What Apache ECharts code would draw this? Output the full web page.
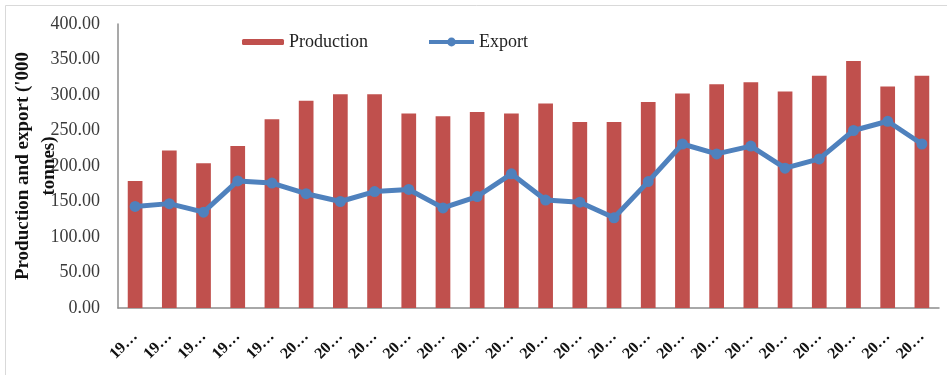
<!DOCTYPE html>
<html>
<head>
<meta charset="utf-8">
<script src="https://cdn.jsdelivr.net/npm/echarts@6/dist/echarts.min.js"></script>
<style>
  html, body { margin: 0; padding: 0; background: #ffffff; }
  #chart { width: 947px; height: 375px; }
</style>
</head>
<body>
<div id="chart"></div>
<script>
// Years 1995–2018
const years = ['1995','1996','1997','1998','1999','2000','2001','2002','2003','2004','2005','2006',
               '2007','2008','2009','2010','2011','2012','2013','2014','2015','2016','2017','2018'];
// Production and export, '000 tonnes
const production = [179, 222, 204, 228, 266, 292, 301, 301, 274, 270, 276, 274,
                    288, 262, 262, 290, 302, 315, 318, 305, 327, 348, 312, 327];
const exportVol  = [143, 147, 135, 179, 176, 161, 150, 164, 167, 141, 157, 189,
                    152, 149, 127, 178, 231, 217, 228, 197, 210, 250, 263, 231];
const yTicks = { min: 0, max: 400, interval: 50 };

const serif = '"Liberation Serif", "Times New Roman", serif';
const chart = echarts.init(document.getElementById('chart'));

chart.setOption({
  backgroundColor: '#ffffff',
  animation: false,
  graphic: [{
    type: 'rect',
    z: -10,
    shape: { x: 5.5, y: 5.5, width: 980, height: 420 },
    style: { fill: null, stroke: '#d9d9d9', lineWidth: 1 }
  }],
  legend: [{
    data: ['Production'],
    left: 237, top: 28,
    itemWidth: 42, itemHeight: 6, itemGap: 5,
    textStyle: { fontFamily: serif, fontSize: 18, color: '#222' }
  }, {
    data: ['Export'],
    left: 422, top: 28,
    itemWidth: 45, itemHeight: 11,
    lineStyle: { width: 4 },
    textStyle: { fontFamily: serif, fontSize: 18, color: '#222' }
  }],
  grid: { left: 118, right: 8, top: 24, bottom: 67, outerBoundsMode: 'none' },
  xAxis: {
    type: 'category',
    data: years,
    axisLine: { lineStyle: { color: '#8c8c8c', width: 1.5 } },
    axisTick: { show: false },
    axisLabel: {
      interval: 0,
      rotate: 45,
      margin: 26,
      fontFamily: serif,
      fontSize: 16,
      fontWeight: 'bold',
      color: '#111',
      formatter: v => v.slice(0, 2) + '\u2026'
    }
  },
  yAxis: {
    type: 'value',
    min: yTicks.min, max: yTicks.max, interval: yTicks.interval,
    name: "Production and export ('000\ntonnes)",
    nameLocation: 'middle',
    nameRotate: 90,
    nameGap: 56,
    nameMoveOverlap: false,
    nameTextStyle: {
      fontFamily: serif, fontSize: 19, fontWeight: 'bold',
      color: '#111', lineHeight: 26
    },
    axisLine: { show: true, lineStyle: { color: '#8c8c8c', width: 1.5 } },
    axisTick: { show: false },
    splitLine: { show: false },
    axisLabel: {
      margin: 18,
      fontFamily: serif,
      fontSize: 18,
      color: '#3a3a3a',
      formatter: v => v.toFixed(2)
    }
  },
  series: [{
    name: 'Production',
    type: 'bar',
    data: production,
    barWidth: '43%',
    itemStyle: { color: '#C0504D' }
  }, {
    name: 'Export',
    type: 'line',
    data: exportVol,
    symbol: 'circle',
    symbolSize: 11,
    lineStyle: { color: '#4F81BD', width: 5 },
    itemStyle: { color: '#4F81BD' }
  }]
});
</script>
</body>
</html>
